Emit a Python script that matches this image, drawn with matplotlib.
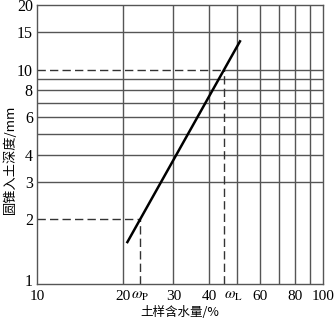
import matplotlib
matplotlib.use("Agg")
import matplotlib.pyplot as plt
from matplotlib.transforms import ScaledTranslation, blended_transform_factory

plt.rcParams['font.family'] = ['Liberation Serif', 'Noto Sans CJK SC']
plt.rcParams['mathtext.fontset'] = 'stix'

# data
line_x = [20.6, 51.5]
line_y = [1.55, 13.7]
w_p = 22.9
w_l = 45.1
y_p = 2
y_l = 10
h_grid = [3, 4, 5, 6, 7, 8, 9, 15]
v_grid = [20, 30, 40, 50, 60, 70, 80, 90]
x_ticks = [10, 20, w_p, 30, 40, 60, 80, 100]
x_labels = ['10', '20', r'$\omega_\mathrm{P}$', '30', '40', '60', '80', '100']
wl_label = r'$\omega_\mathrm{L}$'
y_ticks = [1, 2, 3, 4, 6, 8, 10, 15, 20]
y_labels = ['1', '2', '3', '4', '6', '8', '10', '15', '20']

fig = plt.figure(figsize=(3.35, 3.18), dpi=100)
ax = fig.add_axes([37/335, 1-284/318, 286/335, 279/318])
ax.set_xscale('log')
ax.set_yscale('log')
ax.set_xlim(10, 100)
ax.set_ylim(1, 20)

gc = '#555555'
for h in h_grid:
    ax.plot([10, 100], [h, h], color=gc, lw=1.0)
for v in v_grid:
    ax.plot([v, v], [1, 20], color=gc, lw=1.0)
ax.plot([w_l, 100], [y_l, y_l], color=gc, lw=1.0)

dash = dict(color='#333333', lw=1.0, dashes=(6, 3))
ax.plot([10, w_p], [y_p, y_p], **dash)
ax.plot([w_p, w_p], [1, y_p], **dash)
ax.plot([10, w_l], [y_l, y_l], **dash)
ax.plot([w_l, w_l], [1, y_l], **dash)

ax.plot(line_x, line_y, color='black', lw=1.8, solid_capstyle='butt')

fs = 11
ax.set_xticks(x_ticks)
ax.set_xticklabels(x_labels)
ax.set_yticks(y_ticks)
ax.set_yticklabels(y_labels, fontsize=11.5)
ax.minorticks_off()
ax.tick_params(length=0)
ax.tick_params(axis='x', labelsize=fs, pad=4)
ax.tick_params(axis='y', pad=3)

# omega_L label, set slightly right of its dashed line
trans = blended_transform_factory(ax.transData, ax.transAxes) + ScaledTranslation(7/72, -4/72, fig.dpi_scale_trans)
ax.text(w_l, 0, wl_label, transform=trans, ha='center', va='top', fontsize=fs)

for lab in ax.get_yticklabels():
    if lab.get_text() == '1':
        lab.set_transform(lab.get_transform() + ScaledTranslation(0, 3/72, fig.dpi_scale_trans))
for s in ax.spines.values():
    s.set_color(gc)
    s.set_linewidth(1.0)

ax.set_xlabel('土样含水量/%', fontsize=9, family=['Noto Sans CJK SC'])
ax.xaxis.set_label_coords(0.5, -(312.5 - 284) / 279, transform=ax.transAxes)
ax.set_ylabel('圆锥入土深度/mm', fontsize=9.5, family=['Noto Sans CJK SC'])
ax.yaxis.set_label_coords(-(37 - 10) / 286, 1 - (159 - 5) / 279, transform=ax.transAxes)
ax.yaxis.label.set_va('center')
ax.xaxis.label.set_va('center')

fig.savefig('out.png', dpi=100)
